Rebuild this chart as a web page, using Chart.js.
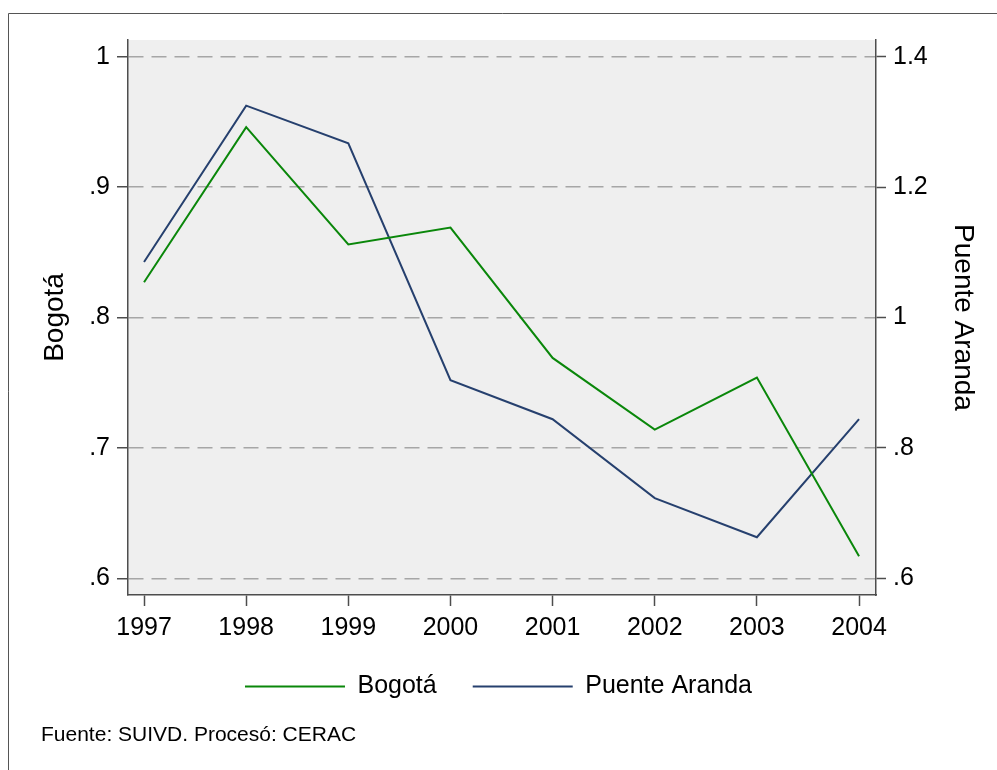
<!DOCTYPE html>
<html>
<head>
<meta charset="utf-8">
<script src="https://cdn.jsdelivr.net/npm/chart.js@4"></script>
<style>
  html, body { margin: 0; padding: 0; background: #fff; }
  #wrap { width: 997px; height: 770px; }
</style>
</head>
<body>
<div id="wrap"><canvas id="lineChart" width="997" height="770"></canvas></div>
<script>
// ---- data ----
const years        = [1997, 1998, 1999, 2000, 2001, 2002, 2003, 2004];
const bogota       = [0.827, 0.946, 0.856, 0.869, 0.769, 0.714, 0.754, 0.617];
const puenteAranda = [1.085, 1.325, 1.267, 0.904, 0.844, 0.723, 0.663, 0.844];

const leftTicks  = [0.6, 0.7, 0.8, 0.9, 1];
const rightTicks = [0.6, 0.8, 1, 1.2, 1.4];

const footerText = 'Fuente: SUIVD. Procesó: CERAC';

const FONT      = "'Liberation Sans', Arial, sans-serif";
const AXIS_COL  = '#4d4d4d';
const GRID_COL  = '#a6a6a6';
const PLOT_BG   = '#efefef';

// Stata-ish number labels: ".8" instead of "0.8"
const stataNum = v => String(+v.toFixed(2)).replace(/^0\./, '.');

Chart.defaults.font.family = FONT;
Chart.defaults.color = '#000';

// plot region background, outer frame and source note
const decor = {
  id: 'decor',
  beforeDraw(chart) {
    const { ctx, chartArea: a } = chart;
    ctx.save();
    ctx.fillStyle = PLOT_BG;
    ctx.fillRect(a.left, a.top, a.right - a.left, a.bottom - a.top);
    ctx.strokeStyle = '#555';
    ctx.lineWidth = 1;
    ctx.beginPath();
    ctx.moveTo(8.5, 770);
    ctx.lineTo(8.5, 13.5);
    ctx.lineTo(997, 13.5);
    ctx.stroke();
    ctx.restore();
  },
  afterDraw(chart) {
    const { ctx } = chart;
    ctx.save();
    ctx.font = `21px ${FONT}`;
    ctx.fillStyle = '#000';
    ctx.textBaseline = 'middle';
    ctx.textAlign = 'left';
    ctx.fillText(footerText, 41, 735);
    ctx.restore();
  }
};

const ctx = document.getElementById('lineChart');

new Chart(ctx, {
  type: 'line',
  data: {
    datasets: [
      {
        label: 'Bogotá',
        data: years.map((y, i) => ({ x: y, y: bogota[i] })),
        yAxisID: 'y',
        borderColor: '#0a870a',
        backgroundColor: '#0a870a',
        borderWidth: 2,
        pointRadius: 0,
        tension: 0,
      },
      {
        label: 'Puente Aranda',
        data: years.map((y, i) => ({ x: y, y: puenteAranda[i] })),
        yAxisID: 'y1',
        borderColor: '#26406e',
        backgroundColor: '#26406e',
        borderWidth: 2,
        pointRadius: 0,
        tension: 0,
      }
    ]
  },
  options: {
    responsive: false,
    animation: false,
    layout: { padding: { top: 40, left: 0, right: 0, bottom: 61 } },
    plugins: {
      tooltip: { enabled: false },
      legend: {
        position: 'bottom',
        labels: {
          usePointStyle: true,
          pointStyle: 'line',
          pointStyleWidth: 100,
          padding: 36,
          font: { size: 25 },
          color: '#000'
        }
      }
    },
    scales: {
      x: {
        type: 'linear',
        min: 1996.843,
        max: 2004.166,
        afterBuildTicks: s => { s.ticks = years.map(v => ({ value: v })); },
        afterFit: s => { s.height = 43; },
        ticks: { callback: v => String(v), font: { size: 25 }, padding: 7, maxRotation: 0, autoSkip: false },
        grid: { drawOnChartArea: false, drawTicks: true, tickLength: 11, tickColor: AXIS_COL, tickWidth: 1.5 },
        border: { display: true, color: AXIS_COL, width: 1.5 }
      },
      y: {
        position: 'left',
        min: 0.5872,
        max: 1.0128,
        afterBuildTicks: s => { s.ticks = leftTicks.map(v => ({ value: v })); },
        afterFit: s => { s.width = 128; },
        ticks: { callback: v => stataNum(v), font: { size: 25 }, padding: 7 },
        grid: { color: GRID_COL, lineWidth: 1.5, tickLength: 11, tickColor: AXIS_COL, tickWidth: 1.5, tickBorderDash: [] },
        border: { display: true, color: AXIS_COL, width: 1.5, dash: [15, 8] },
        title: { display: true, text: 'Bogotá', font: { size: 28 }, color: '#000', padding: { top: 38, bottom: 0 } }
      },
      y1: {
        position: 'right',
        min: 0.5744,
        max: 1.4256,
        afterBuildTicks: s => { s.ticks = rightTicks.map(v => ({ value: v })); },
        afterFit: s => { s.width = 121; },
        ticks: { callback: v => stataNum(v), font: { size: 25 }, padding: 7 },
        grid: { drawOnChartArea: false, tickLength: 10, tickColor: AXIS_COL, tickWidth: 1.5 },
        border: { display: true, color: AXIS_COL, width: 1.5 },
        title: { display: true, text: 'Puente Aranda', font: { size: 28 }, color: '#000', padding: { top: 17, bottom: 0 } }
      }
    }
  },
  plugins: [decor]
});
</script>
</body>
</html>
